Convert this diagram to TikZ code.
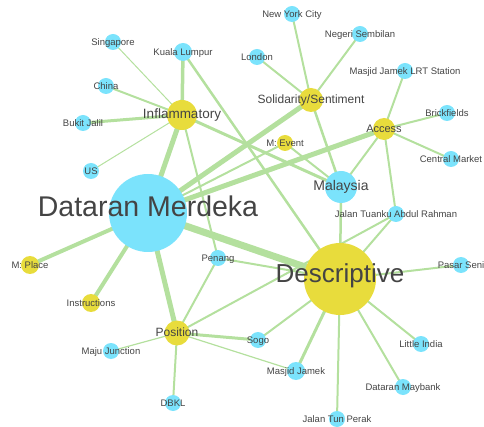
\documentclass[tikz,border=0pt]{standalone}
\usepackage{fontspec}
\setmainfont{Liberation Sans}
\pgfdeclarelayer{bg}
\pgfsetlayers{bg,main}
\definecolor{edgec}{RGB}{180,224,158}
\definecolor{bluec}{RGB}{123,227,252}
\definecolor{yelc}{RGB}{232,220,60}
\definecolor{txtc}{RGB}{68,68,68}
\tikzset{
  bnode/.style={circle,fill=bluec,inner sep=0pt,minimum size=#1},
  ynode/.style={circle,fill=yelc,inner sep=0pt,minimum size=#1},
  lbl/.style={inner sep=0pt,text=txtc,text height=0.7em,text depth=0pt,font=\fontsize{#1}{#1}\selectfont},
  lbl/.default=9.5,
  edge/.style={draw=edgec,line width=#1},
  edge/.default=2pt
}
\begin{document}
\begin{tikzpicture}[x=1pt,y=-1pt]
\useasboundingbox (0,0) rectangle (484,427);
% nodes
\node[bnode=78pt] (DM) at (148,213) {};
\node[ynode=72pt] (Desc) at (340,279) {};
\node[bnode=32pt] (Mal) at (341,187) {};
\node[ynode=30pt] (Inf) at (182,115) {};
\node[ynode=24pt] (Sol) at (311,100) {};
\node[ynode=22pt] (Acc) at (384,129) {};
\node[ynode=16pt] (MEv) at (285,143) {};
\node[ynode=18pt] (MPl) at (30,265) {};
\node[ynode=18pt] (Ins) at (91,303) {};
\node[ynode=25pt] (Pos) at (177,333) {};
\node[bnode=18pt] (KL) at (183,52) {};
\node[bnode=16pt] (Sg) at (113,42) {};
\node[bnode=16pt] (Ch) at (106,86) {};
\node[bnode=16pt] (BJ) at (83,123) {};
\node[bnode=16pt] (US) at (91,171) {};
\node[bnode=16pt] (NYC) at (292,14) {};
\node[bnode=16pt] (NS) at (360,34) {};
\node[bnode=16pt] (Lon) at (257,57) {};
\node[bnode=16pt] (LRT) at (405,71) {};
\node[bnode=16pt] (Bf) at (447,113) {};
\node[bnode=16pt] (CM) at (451,159) {};
\node[bnode=16pt] (JT) at (396,214) {};
\node[bnode=16pt] (PS) at (461,265) {};
\node[bnode=16pt] (LI) at (421,344) {};
\node[bnode=16pt] (DMb) at (403,387) {};
\node[bnode=16pt] (JTP) at (337,419) {};
\node[bnode=18pt] (MJ) at (296,371) {};
\node[bnode=16pt] (Sogo) at (258,340) {};
\node[bnode=16pt] (Pen) at (218,258) {};
\node[bnode=16pt] (MJn) at (111,351) {};
\node[bnode=16pt] (DBKL) at (173,403) {};
% edges
\begin{pgfonlayer}{bg}
\draw[edge=7pt] (DM.center) -- (Desc.center);
\draw[edge=5pt] (DM.center) -- (Inf.center);
\draw[edge=5pt] (DM.center) -- (Sol.center);
\draw[edge=5pt] (DM.center) -- (Acc.center);
\draw[edge=5pt] (DM.center) -- (Pos.center);
\draw[edge=4pt] (DM.center) -- (MPl.center);
\draw[edge=4pt] (DM.center) -- (Ins.center);
\draw[edge=2pt] (DM.center) -- (MEv.center);
\draw[edge=3.5pt] (Inf.center) -- (KL.center);
\draw[edge=1pt] (Inf.center) -- (Sg.center);
\draw[edge=2pt] (Inf.center) -- (Ch.center);
\draw[edge=3pt] (Inf.center) -- (BJ.center);
\draw[edge=1pt] (Inf.center) -- (US.center);
\draw[edge=3pt] (Inf.center) -- (Mal.center);
\draw[edge=2pt] (Inf.center) -- (Pen.center);
\draw[edge=2.5pt] (KL.center) -- (Desc.center);
\draw[edge=2pt] (Sol.center) -- (NYC.center);
\draw[edge=2pt] (Sol.center) -- (NS.center);
\draw[edge=2pt] (Sol.center) -- (Lon.center);
\draw[edge=2.5pt] (Sol.center) -- (Mal.center);
\draw[edge=2pt] (Acc.center) -- (LRT.center);
\draw[edge=2pt] (Acc.center) -- (Bf.center);
\draw[edge=2pt] (Acc.center) -- (CM.center);
\draw[edge=2pt] (Acc.center) -- (Mal.center);
\draw[edge=2pt] (Acc.center) -- (JT.center);
\draw[edge=2pt] (MEv.center) -- (Mal.center);
\draw[edge=2.5pt] (Mal.center) -- (Desc.center);
\draw[edge=2pt] (Desc.center) -- (JT.center);
\draw[edge=2pt] (Desc.center) -- (PS.center);
\draw[edge=2pt] (Desc.center) -- (LI.center);
\draw[edge=2pt] (Desc.center) -- (DMb.center);
\draw[edge=2pt] (Desc.center) -- (JTP.center);
\draw[edge=3pt] (Desc.center) -- (MJ.center);
\draw[edge=2pt] (Desc.center) -- (Sogo.center);
\draw[edge=2pt] (Desc.center) -- (Pen.center);
\draw[edge=2pt] (Pos.center) -- (Pen.center);
\draw[edge=2pt] (Pos.center) -- (JT.center);
\draw[edge=3pt] (Pos.center) -- (Sogo.center);
\draw[edge=1.2pt] (Pos.center) -- (MJ.center);
\draw[edge=1.2pt] (Pos.center) -- (MJn.center);
\draw[edge=2pt] (Pos.center) -- (DBKL.center);
\end{pgfonlayer}
% labels
\node[lbl=28.5] (tDM) at (DM) {Dataran Merdeka};
\node[lbl=26] (tDesc) at (Desc) {Descriptive};
\node[lbl=14] (tMal) at (Mal) {Malaysia};
\node[lbl=13.5] (tInf) at (Inf) {Inflammatory};
\node[lbl=12] (tSol) at (Sol) {Solidarity/Sentiment};
\node[lbl=11] (tAcc) at (Acc) {Access};
\node[lbl] (tMEv) at (MEv) {M: Event};
\node[lbl] (tMPl) at (MPl) {M: Place};
\node[lbl] (tIns) at (Ins) {Instructions};
\node[lbl=12] (tPos) at (Pos) {Position};
\node[lbl] (tKL) at (KL) {Kuala Lumpur};
\node[lbl] (tSg) at (Sg) {Singapore};
\node[lbl] (tCh) at (Ch) {China};
\node[lbl] (tBJ) at (BJ) {Bukit Jalil};
\node[lbl] (tUS) at (US) {US};
\node[lbl] (tNYC) at (NYC) {New York City};
\node[lbl] (tNS) at (NS) {Negeri Sembilan};
\node[lbl] (tLon) at (Lon) {London};
\node[lbl] (tLRT) at (LRT) {Masjid Jamek LRT Station};
\node[lbl] (tBf) at (Bf) {Brickfields};
\node[lbl] (tCM) at (CM) {Central Market};
\node[lbl] (tJT) at (JT) {Jalan Tuanku Abdul Rahman};
\node[lbl] (tPS) at (PS) {Pasar Seni};
\node[lbl] (tLI) at (LI) {Little India};
\node[lbl] (tDMb) at (DMb) {Dataran Maybank};
\node[lbl] (tJTP) at (JTP) {Jalan Tun Perak};
\node[lbl] (tMJ) at (MJ) {Masjid Jamek};
\node[lbl] (tSogo) at (Sogo) {Sogo};
\node[lbl] (tPen) at (Pen) {Penang};
\node[lbl] (tMJn) at (MJn) {Maju Junction};
\node[lbl] (tDBKL) at (DBKL) {DBKL};
\end{tikzpicture}
\end{document}
